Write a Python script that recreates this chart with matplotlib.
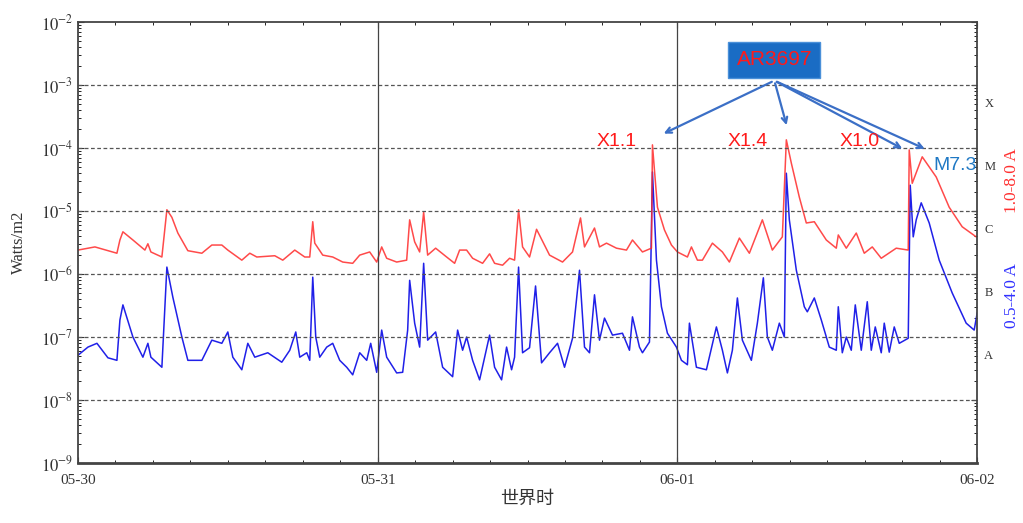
import numpy as np
import matplotlib
matplotlib.use("Agg")
import matplotlib.pyplot as plt
from matplotlib.transforms import blended_transform_factory

plt.rcParams['mathtext.fontset'] = 'stix'

# hours since 05-30 00:00 and log10(flux, W/m2)
long_t = [0.00, 1.36, 3.12, 3.36, 3.60, 4.40, 5.36, 5.60, 5.84, 6.72, 7.12, 7.52, 8.00, 8.80,
          9.92, 10.72, 11.52, 12.00, 13.12, 13.76, 14.32, 15.76, 16.40, 17.36, 18.16, 18.56,
          18.80, 18.96, 19.60, 20.40, 21.20, 22.00, 22.56, 23.36, 23.92, 24.32, 24.72, 25.52,
          26.32, 26.56, 26.96, 27.36, 27.68, 28.00, 28.64, 29.52, 30.16, 30.56, 31.12, 31.60,
          32.40, 32.96, 33.36, 34.00, 34.56, 34.96, 35.28, 35.60, 36.16, 36.72, 37.76, 38.80,
          39.60, 40.24, 40.56, 41.36, 41.76, 42.32, 43.12, 43.92, 44.40, 45.20, 45.92, 46.00,
          46.16, 46.40, 46.96, 47.52, 48.00, 48.80, 49.12, 49.60, 50.00, 50.80, 51.60, 52.16,
          52.96, 53.76, 54.80, 55.60, 56.40, 56.72, 57.12, 57.76, 58.32, 58.96, 59.92, 60.72,
          60.88, 61.52, 62.32, 62.96, 63.60, 64.32, 65.52, 66.48, 66.56, 66.80, 67.60, 68.72,
          69.76, 70.80, 71.92]
long_v = [-5.62, -5.57, -5.67, -5.46, -5.33, -5.46, -5.62, -5.52, -5.65, -5.73, -4.98, -5.10,
          -5.35, -5.63, -5.67, -5.54, -5.54, -5.62, -5.78, -5.67, -5.73, -5.71, -5.78, -5.62,
          -5.73, -5.73, -5.17, -5.51, -5.70, -5.73, -5.81, -5.83, -5.70, -5.65, -5.81, -5.57,
          -5.75, -5.81, -5.78, -5.14, -5.49, -5.65, -5.02, -5.70, -5.59, -5.73, -5.83, -5.62,
          -5.62, -5.75, -5.83, -5.68, -5.83, -5.86, -5.75, -5.78, -4.98, -5.57, -5.73, -5.29,
          -5.70, -5.81, -5.65, -5.11, -5.57, -5.27, -5.57, -5.51, -5.59, -5.62, -5.46, -5.65,
          -5.59, -3.95, -4.35, -4.94, -5.30, -5.54, -5.65, -5.73, -5.57, -5.78, -5.78, -5.51,
          -5.65, -5.81, -5.43, -5.67, -5.14, -5.62, -5.41, -3.87, -4.24, -4.78, -5.19, -5.17,
          -5.46, -5.59, -5.38, -5.59, -5.35, -5.67, -5.57, -5.75, -5.59, -5.62, -4.03, -4.56,
          -4.14, -4.46, -4.94, -5.25, -5.41]

short_t = [0.00, 0.80, 1.52, 2.40, 3.12, 3.36, 3.60, 4.40, 5.20, 5.60, 5.84, 6.72, 7.12, 7.60,
           8.32, 8.80, 9.92, 10.72, 11.52, 12.00, 12.40, 13.12, 13.60, 14.16, 15.20, 16.32,
           16.96, 17.44, 17.76, 18.32, 18.56, 18.80, 19.04, 19.36, 19.92, 20.40, 20.96, 21.52,
           22.00, 22.56, 23.12, 23.44, 23.92, 24.32, 24.72, 25.52, 26.00, 26.40, 26.56, 26.96,
           27.36, 27.68, 28.00, 28.64, 29.20, 30.00, 30.40, 30.80, 31.12, 31.60, 32.16, 32.96,
           33.36, 33.92, 34.32, 34.72, 34.96, 35.28, 35.60, 36.16, 36.64, 37.12, 37.76, 38.40,
           38.96, 39.60, 40.16, 40.56, 40.96, 41.36, 41.76, 42.16, 42.80, 43.60, 44.16, 44.40,
           44.96, 45.20, 45.76, 46.00, 46.32, 46.72, 47.20, 47.92, 48.32, 48.80, 48.96, 49.52,
           50.32, 51.12, 51.60, 52.00, 52.40, 52.80, 53.20, 53.92, 54.40, 54.88, 55.20, 55.60,
           56.16, 56.56, 56.72, 56.96, 57.52, 58.16, 58.40, 58.96, 59.52, 60.16, 60.72, 60.88,
           61.20, 61.52, 61.92, 62.24, 62.72, 63.20, 63.52, 63.84, 64.32, 64.56, 64.96, 65.36,
           65.76, 66.48, 66.64, 66.88, 67.12, 67.52, 68.16, 68.96, 70.00, 71.12, 71.76, 72.00]
short_v = [-7.29, -7.16, -7.10, -7.33, -7.37, -6.73, -6.49, -7.00, -7.32, -7.10, -7.32, -7.48,
           -5.89, -6.37, -7.00, -7.37, -7.37, -7.05, -7.10, -6.92, -7.32, -7.52, -7.10, -7.32,
           -7.25, -7.40, -7.21, -6.92, -7.32, -7.25, -7.37, -6.05, -7.00, -7.32, -7.16, -7.10,
           -7.37, -7.48, -7.60, -7.25, -7.37, -7.10, -7.56, -6.89, -7.32, -7.57, -7.56, -6.89,
           -6.10, -6.78, -7.16, -5.83, -7.05, -6.92, -7.48, -7.63, -6.89, -7.21, -7.00, -7.37,
           -7.68, -6.97, -7.48, -7.68, -7.16, -7.52, -7.32, -5.89, -7.25, -7.17, -6.19, -7.41,
           -7.25, -7.10, -7.48, -7.02, -5.94, -7.16, -7.25, -6.33, -7.05, -6.70, -6.97, -6.94,
           -7.21, -6.68, -7.16, -7.25, -7.08, -4.38, -5.78, -6.52, -6.94, -7.16, -7.37, -7.44,
           -6.78, -7.48, -7.52, -6.84, -7.21, -7.57, -7.21, -6.38, -7.05, -7.37, -6.78, -6.06,
           -7.00, -7.21, -6.78, -7.00, -4.40, -5.14, -5.94, -6.52, -6.60, -6.38, -6.73, -7.16,
           -7.21, -6.52, -7.25, -7.00, -7.21, -6.49, -7.21, -6.44, -7.21, -6.84, -7.25, -6.78,
           -7.24, -6.84, -7.10, -7.02, -4.59, -5.41, -5.14, -4.87, -5.19, -5.78, -6.30, -6.78,
           -6.89, -6.62]

day_labels = ['05-30', '05-31', '06-01', '06-02']
flare_names = ['X1.1', 'X1.4', 'X1.0']
flare_label_t = [43.1, 53.6, 62.6]
arrow_tips = [(46.7, -3.79), (56.8, -3.68), (66.2, -4.03), (68.0, -4.03)]
classes = ['X', 'M', 'C', 'B', 'A']
class_pos = [-3.3, -4.3, -5.3, -6.3, -7.3]

fig = plt.figure(figsize=(10.23, 5.23), dpi=100)
ax = fig.add_axes([0.0762, 0.1147, 0.879, 0.8432])

ax.plot(short_t, 10 ** np.array(short_v), color='#2020e8', lw=1.1)
ax.plot(long_t, 10 ** np.array(long_v), color='#ff2a2a', lw=1.1, alpha=0.85)

ax.set_yscale('log')
ax.set_ylim(1e-9, 1e-2)
ax.set_xlim(0, 72)

for e in range(-8, -2):
    ax.axhline(10.0 ** e, color='#555555', ls=(0, (3, 2)), lw=0.9)
for d in [24, 48]:
    ax.axvline(d, color='#444444', lw=0.9)

ax.set_yticks([10.0 ** e for e in range(-9, -1)])
ax.set_yticklabels([r'$10^{%d}$' % e for e in range(-9, -1)])
ax.set_xticks([0, 24, 48, 72])
ax.set_xticklabels(day_labels, family='Liberation Serif', fontsize=11)
ax.set_xticks(np.arange(0, 73, 3), minor=True)
ax.tick_params(axis='both', which='both', direction='in', top=True, right=True)
ax.tick_params(axis='both', which='major', length=4, labelsize=12, colors='#333333')
ax.tick_params(axis='both', which='minor', length=2.5)
ax.tick_params(axis='x', pad=8, labelsize=11)
for s in ax.spines.values():
    s.set_color('#444444')
    s.set_linewidth(1.3)
ax.spines['bottom'].set_linewidth(2)

ax.set_ylabel('Watts/m2', family='Liberation Serif', fontsize=12, color='#333333', labelpad=10)
ax.set_xlabel('世界时', family=['Noto Sans CJK SC', 'DejaVu Sans'], fontsize=13,
              color='#333333', labelpad=2)

tr = blended_transform_factory(ax.transAxes, ax.transData)
for c, p in zip(classes, class_pos):
    ax.text(1.008, 10 ** p, c, transform=tr, family='Liberation Serif', fontsize=9,
            va='center', ha='left', color='#333333')
ax.text(1.039, 0.64, '1.0-8.0 A', transform=ax.transAxes, rotation=90, color='#ff3030',
        family='Liberation Serif', fontsize=12.5, va='center', ha='center')
ax.text(1.039, 0.379, '0.5-4.0 A', transform=ax.transAxes, rotation=90, color='#3030ff',
        family='Liberation Serif', fontsize=12.5, va='center', ha='center')

ax.text(55.76, 10 ** -2.60, 'AR3697', color='#ff1a1a', fontsize=15, family='Liberation Sans',
        ha='center', va='center',
        bbox=dict(boxstyle='square,pad=0.4', fc='#1a6cc4', ec='#4a90d9'))
for tip in arrow_tips:
    ax.annotate('', xy=(tip[0], 10 ** tip[1]), xytext=(55.76, 10 ** -2.93),
                arrowprops=dict(arrowstyle='->', color='#3b6fc6', lw=1.6))
for name, t in zip(flare_names, flare_label_t):
    ax.text(t, 10 ** -3.89, name, color='#ff1a1a', fontsize=14, family='Liberation Sans',
            ha='center', va='center')
ax.text(68.5, 10 ** -4.28, 'M7.3', color='#1f78c4', fontsize=14, family='Liberation Sans',
        ha='left', va='center')

fig.savefig('out.png', dpi=100)
